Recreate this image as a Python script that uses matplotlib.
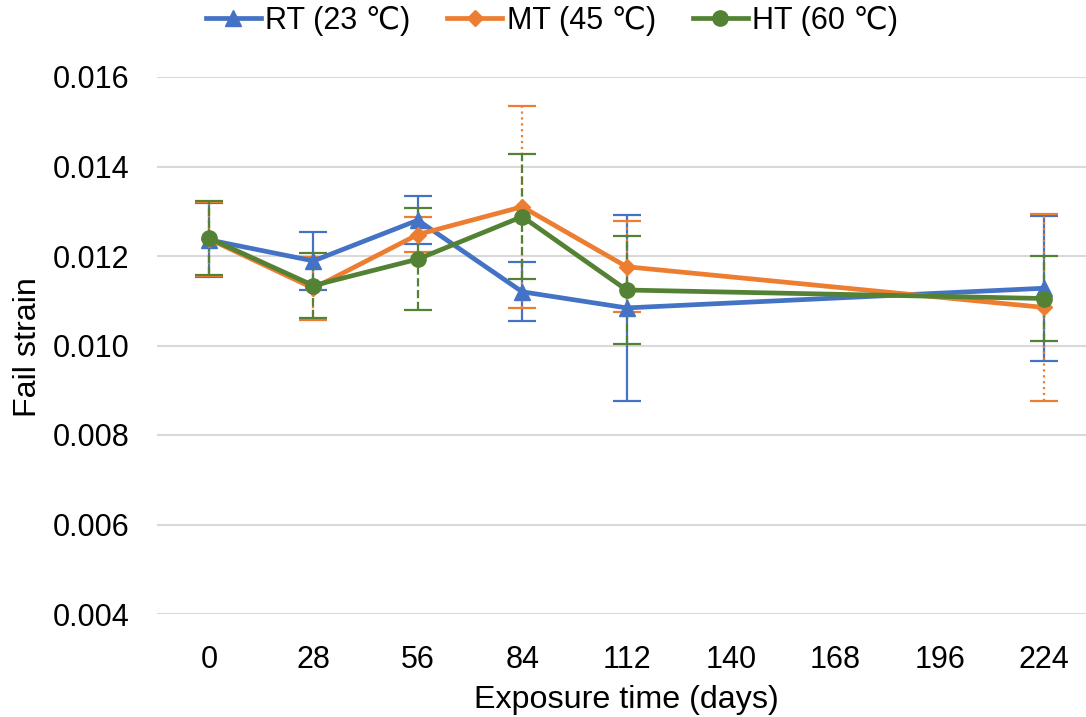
import matplotlib.pyplot as plt
import numpy as np

plt.rcParams['font.family'] = ['Liberation Sans', 'DejaVu Sans']

# exposure days and fail strain (mean, std) for each temperature
days = [0, 28, 56, 84, 112, 224]
xticks = [0, 28, 56, 84, 112, 140, 168, 196, 224]

rt = [0.01236, 0.01189, 0.01280, 0.01120, 0.01084, 0.01128]
rt_err = [0.00082, 0.00064, 0.00053, 0.00066, 0.00208, 0.00162]
mt = [0.01238, 0.01128, 0.01248, 0.01310, 0.01176, 0.01085]
mt_err = [0.00082, 0.00070, 0.00040, 0.00226, 0.00102, 0.00209]
ht = [0.01240, 0.01134, 0.01193, 0.01288, 0.01124, 0.01105]
ht_err = [0.00082, 0.00072, 0.00114, 0.00139, 0.00120, 0.00096]

labels = ['RT (23 \u2103)', 'MT (45 \u2103)', 'HT (60 \u2103)']
colors = ['#4472C4', '#ED7D31', '#548235']
markers = ['^', 'D', 'o']
msizes = [11, 8, 11]
err_styles = ['-', ':', '--']

W, H = 1086, 717
fig = plt.figure(figsize=(W / 100, H / 100), dpi=100)
ax = fig.add_axes([156.8 / W, 1 - 614 / H, (W - 156.8) / W, (614 - 77) / H])

series = [(rt, rt_err), (mt, mt_err), (ht, ht_err)]

# error bars underneath
for (y, e), c, ls in zip(series, colors, err_styles):
    _, caps, bars = ax.errorbar(days, y, yerr=e, fmt='none', ecolor=c,
                                elinewidth=1.6, capsize=10, capthick=1.6,
                                zorder=2)
    for b in bars:
        b.set_linestyle(ls)

handles = []
for (y, e), c, m, ms, lab in zip(series, colors, markers, msizes, labels):
    h, = ax.plot(days, y, color=c, lw=3.4, marker=m, ms=ms, label=lab,
                 zorder=3)
    handles.append(h)

ax.set_xlim(-14, 235.2)
ax.set_ylim(0.004, 0.016)
ax.set_xticks(xticks)
ax.set_yticks(np.arange(0.004, 0.0161, 0.002))
ax.yaxis.set_major_formatter(plt.FuncFormatter(lambda v, p: f'{v:.3f}'))
ax.grid(axis='y', color='#D9D9D9', lw=1.5)
ax.set_axisbelow(True)
for s in ax.spines.values():
    s.set_visible(False)
ax.tick_params(axis='both', length=0, labelsize=22)
ax.tick_params(axis='y', pad=20)
ax.tick_params(axis='x', pad=22)

fig.text(28 / W, 1 - 347 / H, 'Fail strain', rotation=90, ha='center',
         va='center', fontsize=23.2)
fig.text(626 / W, 1 - 700 / H, 'Exposure time (days)', ha='center',
         va='center', fontsize=23.2)

fig.legend(handles=handles, loc='center', bbox_to_anchor=(552 / W, 1 - 21 / H),
           ncol=3, frameon=False, fontsize=22, handlelength=1.8,
           handletextpad=0.15, columnspacing=1.2, borderpad=0)

fig.savefig('out.png', dpi=100)
